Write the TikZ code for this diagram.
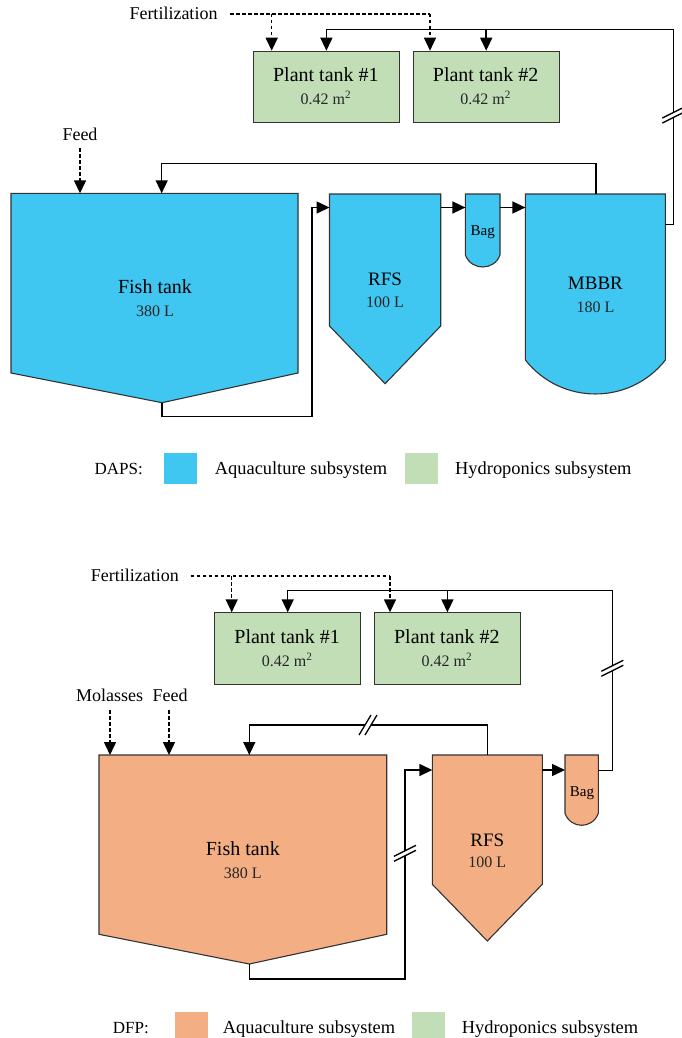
\documentclass[tikz,border=0pt]{standalone}
\usepackage{fontspec}
\setmainfont{Liberation Serif}
\usetikzlibrary{arrows.meta}
\definecolor{aqua}{HTML}{3FC6F1}
\definecolor{hydro}{HTML}{C1DEB6}
\definecolor{dfpc}{HTML}{F4AE84}
\definecolor{edge}{HTML}{333333}
\begin{document}
\begin{tikzpicture}[x=1pt,y=-1pt,
  tank/.style={draw=edge, line width=1.1pt, line join=miter},
  pbox/.style={draw=edge, line width=1.1pt, fill=hydro, inner sep=0pt, anchor=north west, minimum width=146.3pt, minimum height=71.3pt},
  conn/.style={line width=1.5pt, black, line join=miter},
  arr/.style={conn, -{Triangle[length=13pt,width=12pt]}},
  dsh/.style={line width=1.5pt, black, dash pattern=on 3.5pt off 2.5pt},
  darr/.style={dsh, -{Triangle[length=13pt,width=12pt]}},
  ttl/.style={font=\fontsize{20}{24}\selectfont, anchor=base, inner sep=0pt},
  cttl/.style={font=\fontsize{19}{23}\selectfont, anchor=base, inner sep=0pt},
  vol/.style={font=\fontsize{16}{19}\selectfont, anchor=base, inner sep=0pt, text=black!85},
  baglbl/.style={font=\fontsize{15}{18}\selectfont, anchor=base, inner sep=0pt},
  lbl/.style={font=\fontsize{18}{22}\selectfont, anchor=base, inner sep=0pt},
  leg/.style={font=\fontsize{18.4}{22}\selectfont, anchor=base west, inner sep=0pt},
  legk/.style={font=\fontsize{17}{21}\selectfont, anchor=base west, inner sep=0pt},
  sq/.style={inner sep=0pt, anchor=north west, minimum width=33pt, minimum height=30.6pt},
  brkstroke/.style={line width=1.3pt, black},
  vbrk/.pic={\fill[white] (-2.5,-2.6) rectangle (2.5,2.6);
             \draw[brkstroke] (-11,3) -- (11,-8);
             \draw[brkstroke] (-11,8) -- (11,-3);},
  hbrk/.pic={\fill[white] (-2.8,-2.5) rectangle (2.8,2.5);
             \draw[brkstroke] (-9,10) -- (3,-10);
             \draw[brkstroke] (-3,10) -- (9,-10);}
]
\useasboundingbox (0,0) rectangle (681,1038);

% ================= TOP (DAPS) =================
% tanks
\draw[tank, fill=aqua] (11,193.3) -- (298,193.3) -- (298,373) -- (162,402.7) -- (11,373) -- cycle;
\draw[tank, fill=aqua] (329.5,194) -- (440.7,194) -- (440.7,326) -- (385.1,383.7) -- (329.5,326) -- cycle;
\draw[tank, fill=aqua] (465.4,194) -- (500,194) -- (500,255) .. controls (494.3,271) and (471.1,271) .. (465.4,255) -- cycle;
\draw[tank, fill=aqua] (525.4,194) -- (665.4,194) -- (665.4,360) .. controls (629.8,405.3) and (561.0,405.3) .. (525.4,360) -- cycle;

\node[ttl] (ft1t) at (155,293.3) {Fish tank};
\node[vol] (ft1v) at (155,316.7) {380 L};
\node[cttl] (rfs1t) at (385.1,285.4) {RFS};
\node[vol] (rfs1v) at (385.1,307.5) {100 L};
\node[baglbl] (bag1t) at (482.7,235.3) {Bag};
\node[cttl] (mb1t) at (595.4,289.8) {MBBR};
\node[vol] (mb1v) at (595.4,312.5) {180 L};

\node[pbox] (pt1) at (252.7,50.7) {};
\node[pbox] (pt2) at (412.5,50.7) {};
\node[ttl] (pt1t) at (325.85,81.7) {Plant tank \#1};
\node[vol] (pt1v) at (325.85,105) {0.42 m\textsuperscript{2}};
\node[ttl] (pt2t) at (485.65,81.7) {Plant tank \#2};
\node[vol] (pt2v) at (485.65,105) {0.42 m\textsuperscript{2}};

\node[lbl, anchor=base west] (fert1) at (129.3,20) {Fertilization};
\node[lbl] (feed1) at (80,140.7) {Feed};

% coordinates
\coordinate (fs1) at (230,14);
\coordinate (fd1) at (271.7,14);
\coordinate (fe1) at (430,14);
\coordinate (feed1s) at (80,148);
\coordinate (ft1in1) at (80,193.3);
\coordinate (ft1in2) at (161.7,193.3);
\coordinate (ft1B) at (162,402.7);
\coordinate (k1a) at (162,416.7);
\coordinate (k1b) at (311.9,416.7);
\coordinate (k1c) at (311.9,207.5);
\coordinate (rfs1W) at (329.5,207.5);
\coordinate (rfs1E) at (440.7,207.5);
\coordinate (bag1W) at (465.4,207.5);
\coordinate (bag1E) at (500,207.5);
\coordinate (mb1W) at (525.4,207.5);
\coordinate (mb1N) at (596,194);
\coordinate (t1a) at (596,163.4);
\coordinate (t1b) at (161.7,163.4);
\coordinate (mb1E) at (665.4,224.4);
\coordinate (r1a) at (673.3,224.4);
\coordinate (r1b) at (673.3,29.3);

% connectors
\draw[dsh] (fs1) -- (fe1);
\draw[darr] (fd1) -- (fd1 |- pt1.north);
\draw[darr] (fe1) -- (fe1 |- pt2.north);
\draw[darr] (feed1s) -- (ft1in1);
\draw[arr] (mb1N) -- (t1a) -- (t1b) -- (ft1in2);
\draw[arr] (ft1B) -- (k1a) -- (k1b) -- (k1c) -- (rfs1W);
\draw[arr] (rfs1E) -- (bag1W);
\draw[arr] (bag1E) -- (mb1W);
\draw[arr] (mb1E) -- (r1a) -- (r1b) -- (pt1.north |- r1b) -- (pt1.north);
\draw[arr] (pt2.north |- r1b) -- (pt2.north);
\pic at (673.3,115) {vbrk};

% legend
\node[legk] (daps) at (94.5,474.6) {DAPS:};
\node[sq, fill=aqua] (lsq1) at (163.4,453) {};
\node[leg] (laq1) at (214.7,474.6) {Aquaculture subsystem};
\node[sq, fill=hydro] (lsq2) at (404.5,453) {};
\node[leg] (lhy1) at (455,474.6) {Hydroponics subsystem};

% ================= BOTTOM (DFP) =================
\draw[tank, fill=dfpc] (99,755) -- (386.7,755) -- (386.7,934.3) -- (249.3,964) -- (99,934.3) -- cycle;
\draw[tank, fill=dfpc] (432.3,755) -- (542.3,755) -- (542.3,884.3) -- (487.3,941) -- (432.3,884.3) -- cycle;
\draw[tank, fill=dfpc] (565,755) -- (598.3,755) -- (598.3,813.3) .. controls (592.6,829.3) and (570.7,829.3) .. (565,813.3) -- cycle;

\node[ttl] (ft2t) at (242.8,855) {Fish tank};
\node[vol] (ft2v) at (242.8,878.3) {380 L};
\node[cttl] (rfs2t) at (487.3,846) {RFS};
\node[vol] (rfs2v) at (487.3,867.5) {100 L};
\node[baglbl] (bag2t) at (582,796) {Bag};

\node[pbox] (pt3) at (214,612.3) {};
\node[pbox] (pt4) at (373.7,612.3) {};
\node[ttl] (pt3t) at (287.15,643.3) {Plant tank \#1};
\node[vol] (pt3v) at (287.15,666.7) {0.42 m\textsuperscript{2}};
\node[ttl] (pt4t) at (446.85,643.3) {Plant tank \#2};
\node[vol] (pt4v) at (446.85,666.7) {0.42 m\textsuperscript{2}};

\node[lbl, anchor=base west] (fert2) at (90.7,581.7) {Fertilization};
\node[lbl] (mol2) at (109.7,701.7) {Molasses};
\node[lbl] (feed2) at (170,701.7) {Feed};

\coordinate (fs2) at (190.7,576);
\coordinate (fd2) at (231.7,576);
\coordinate (fe2) at (390,576);
\coordinate (mol2s) at (110,710);
\coordinate (feed2s) at (169,710);
\coordinate (ft2in1) at (110,755);
\coordinate (ft2in2) at (169,755);
\coordinate (ft2in3) at (249.3,755);
\coordinate (ft2B) at (249.3,964);
\coordinate (k2a) at (249.3,979);
\coordinate (k2b) at (405,979);
\coordinate (k2c) at (405,770);
\coordinate (rfs2W) at (432.3,770);
\coordinate (rfs2E) at (542.3,770);
\coordinate (bag2W) at (565,770);
\coordinate (rfs2N) at (487.3,755);
\coordinate (t2a) at (487.3,725);
\coordinate (t2b) at (249.3,725);
\coordinate (bag2E) at (598.3,770.7);
\coordinate (r2a) at (612.3,770.7);
\coordinate (r2b) at (612.3,590.7);

\draw[dsh] (fs2) -- (fe2);
\draw[darr] (fd2) -- (fd2 |- pt3.north);
\draw[darr] (fe2) -- (fe2 |- pt4.north);
\draw[darr] (mol2s) -- (ft2in1);
\draw[darr] (feed2s) -- (ft2in2);
\draw[arr] (rfs2N) -- (t2a) -- (t2b) -- (ft2in3);
\draw[arr] (ft2B) -- (k2a) -- (k2b) -- (k2c) -- (rfs2W);
\draw[arr] (rfs2E) -- (bag2W);
\draw[arr] (bag2E) -- (r2a) -- (r2b) -- (pt3.north |- r2b) -- (pt3.north);
\draw[arr] (pt4.north |- r2b) -- (pt4.north);
\pic at (612.3,668.3) {vbrk};
\pic at (405,853.3) {vbrk};
\pic at (368,725) {hbrk};

\node[legk] (dfp) at (112.7,1033.3) {DFP:};
\node[sq, fill=dfpc] (lsq3) at (175,1011.7) {};
\node[leg] (laq2) at (222.7,1033.3) {Aquaculture subsystem};
\node[sq, fill=hydro] (lsq4) at (411.7,1011.7) {};
\node[leg] (lhy2) at (461.7,1033.3) {Hydroponics subsystem};
\end{tikzpicture}
\end{document}
